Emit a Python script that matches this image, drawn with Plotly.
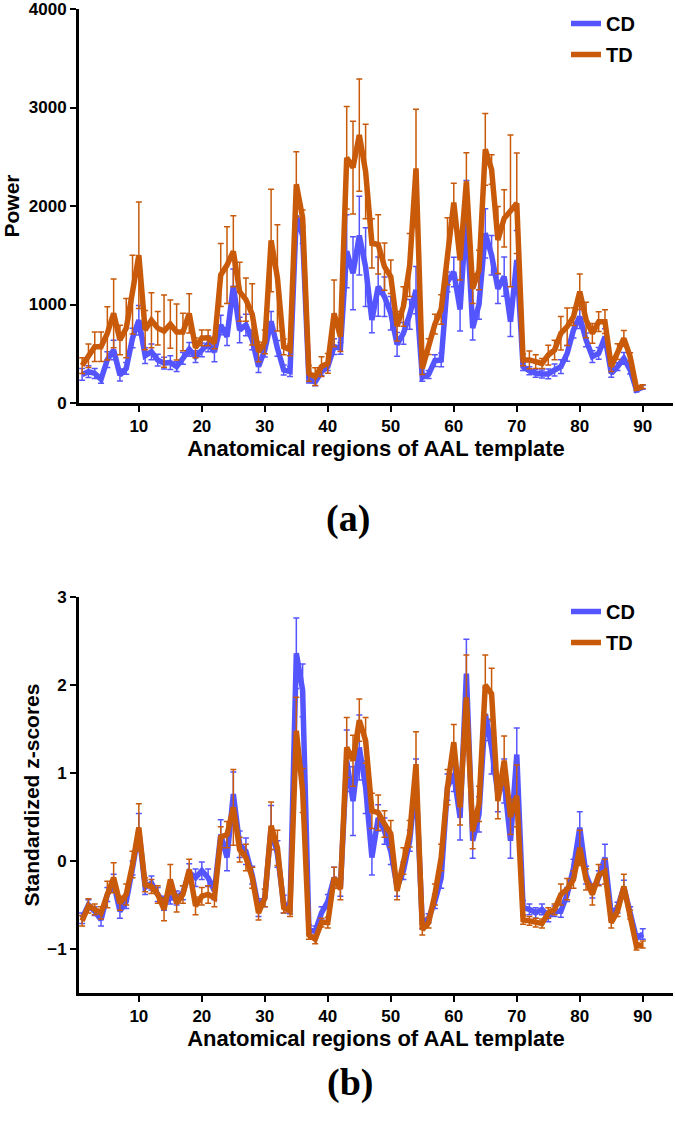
import plotly.graph_objects as go

regions = list(range(1, 91))
x_ticks = [10, 20, 30, 40, 50, 60, 70, 80, 90]
power_ticks = [0, 1000, 2000, 3000, 4000]
z_ticks = [-1, 0, 1, 2, 3]

cd_power = [290, 318, 300, 240, 440, 538, 284, 352, 660, 840,
            480, 520, 436, 405, 410, 370, 453, 545, 470, 540,
            600, 520, 792, 673, 1190, 741, 792, 640, 369, 538,
            830, 555, 335, 320, 1900, 1700, 233, 216, 318, 369,
            572, 555, 1540, 1317, 1700, 1380, 843, 1181, 1079, 910,
            595, 707, 900, 1147, 260, 290, 430, 437, 1230, 1330,
            950, 1930, 760, 1000, 1723, 1500, 1160, 1283, 825, 1452,
            369, 328, 301, 295, 295, 335, 369, 504, 741, 876,
            640, 470, 504, 673, 301, 369, 453, 335, 132, 160]
td_power = [380, 480, 572, 572, 707, 910, 640, 760, 1100, 1500,
            740, 840, 760, 730, 800, 720, 720, 910, 560, 660,
            660, 610, 1300, 1400, 1540, 1130, 1050, 900, 520, 620,
            1650, 1270, 570, 540, 2220, 1880, 301, 267, 369, 403,
            910, 673, 2490, 2390, 2720, 2350, 1621, 1610, 1384, 1282,
            780, 980, 1400, 2382, 350, 572, 800, 950, 1540, 2035,
            1450, 2250, 1160, 1350, 2575, 2370, 1655, 1875, 1950, 2027,
            437, 437, 420, 401, 487, 538, 707, 775, 876, 1130,
            843, 707, 826, 826, 369, 521, 656, 470, 149, 166]
cd_power_err = [60, 60, 50, 40, 80, 100, 60, 60, 100, 150,
                80, 80, 60, 60, 70, 50, 60, 70, 60, 70,
                80, 100, 100, 90, 170, 130, 110, 100, 60, 70,
                100, 80, 50, 50, 100, 80, 30, 40, 40, 40,
                80, 60, 370, 370, 400, 400, 130, 300, 200, 170,
                120, 110, 150, 240, 40, 40, 60, 70, 100, 150,
                220, 330, 120, 150, 250, 200, 150, 200, 150, 300,
                40, 40, 40, 40, 50, 60, 70, 80, 80, 120,
                70, 60, 60, 80, 40, 40, 60, 40, 20, 20]
td_power_err = [80, 120, 150, 150, 270, 350, 150, 300, 400, 540,
                200, 280, 170, 366, 245, 284, 190, 200, 100, 80,
                80, 60, 320, 390, 360, 300, 220, 310, 100, 120,
                520, 540, 80, 60, 330, 80, 80, 90, 100, 100,
                340, 150, 520, 470, 570, 480, 250, 300, 240, 170,
                150, 200, 320, 600, 60, 80, 100, 150, 340, 195,
                200, 290, 150, 200, 365, 150, 340, 290, 770, 510,
                60, 90, 70, 50, 100, 100, 170, 190, 90, 180,
                180, 100, 100, 120, 50, 80, 80, 40, 20, 20]

cd_z = [-0.65, -0.50, -0.57, -0.67, -0.38, -0.25, -0.57, -0.46, -0.08, 0.34,
        -0.30, -0.25, -0.38, -0.48, -0.42, -0.42, -0.36, -0.13, -0.19, -0.11,
        -0.19, -0.34, 0.30, 0.04, 0.76, 0.19, 0.11, -0.16, -0.53, -0.42,
        0.38, 0.08, -0.49, -0.53, 2.36, 1.94, -0.78, -0.80, -0.59, -0.46,
        -0.19, -0.30, 1.14, 0.68, 1.29, 0.84, 0.04, 0.49, 0.34, 0.11,
        -0.30, -0.11, 0.23, 0.91, -0.72, -0.65, -0.46, -0.19, 0.84, 0.99,
        0.49, 2.13, 0.23, 0.53, 1.67, 1.29, 0.76, 0.91, 0.23, 1.21,
        -0.53, -0.55, -0.59, -0.55, -0.63, -0.57, -0.57, -0.38, -0.08, 0.38,
        -0.16, -0.34, -0.19, 0.04, -0.61, -0.53, -0.30, -0.57, -0.88, -0.83]
td_z = [-0.68, -0.51, -0.55, -0.59, -0.38, -0.19, -0.48, -0.38, -0.04, 0.38,
        -0.27, -0.29, -0.38, -0.55, -0.21, -0.48, -0.38, -0.10, -0.51, -0.40,
        -0.38, -0.42, 0.27, 0.30, 0.61, 0.13, 0.04, -0.19, -0.59, -0.42,
        0.40, 0.15, -0.53, -0.57, 1.48, 0.80, -0.84, -0.89, -0.70, -0.70,
        -0.19, -0.32, 1.29, 1.14, 1.60, 1.37, 0.57, 0.55, 0.42, 0.31,
        -0.34, 0.00, 0.31, 1.10, -0.78, -0.70, -0.38, 0.04, 0.84, 1.35,
        0.61, 1.86, 0.34, 0.65, 2.00, 1.90, 0.68, 1.14, 0.50, 0.74,
        -0.67, -0.68, -0.70, -0.71, -0.59, -0.55, -0.38, -0.32, -0.21, 0.15,
        -0.21, -0.38, -0.16, -0.12, -0.70, -0.57, -0.29, -0.61, -0.97, -0.95]
cd_z_err = [0.06, 0.06, 0.05, 0.07, 0.08, 0.10, 0.08, 0.08, 0.08, 0.20,
            0.08, 0.08, 0.08, 0.08, 0.07, 0.08, 0.08, 0.10, 0.10, 0.10,
            0.10, 0.10, 0.17, 0.15, 0.25, 0.15, 0.15, 0.10, 0.10, 0.10,
            0.25, 0.15, 0.10, 0.07, 0.40, 0.30, 0.05, 0.06, 0.07, 0.08,
            0.12, 0.10, 0.35, 0.39, 0.37, 0.30, 0.20, 0.15, 0.15, 0.15,
            0.10, 0.10, 0.12, 0.25, 0.05, 0.05, 0.08, 0.12, 0.15, 0.20,
            0.25, 0.39, 0.20, 0.20, 0.30, 0.30, 0.20, 0.25, 0.20, 0.30,
            0.08, 0.06, 0.06, 0.06, 0.06, 0.06, 0.07, 0.08, 0.10, 0.18,
            0.10, 0.08, 0.08, 0.15, 0.06, 0.06, 0.08, 0.05, 0.05, 0.06]
td_z_err = [0.06, 0.08, 0.06, 0.07, 0.15, 0.17, 0.08, 0.12, 0.15, 0.27,
            0.08, 0.08, 0.10, 0.13, 0.17, 0.10, 0.10, 0.12, 0.10, 0.10,
            0.10, 0.10, 0.12, 0.15, 0.43, 0.14, 0.15, 0.12, 0.08, 0.10,
            0.27, 0.20, 0.06, 0.06, 0.38, 0.25, 0.05, 0.05, 0.05, 0.06,
            0.12, 0.12, 0.34, 0.29, 0.24, 0.26, 0.20, 0.20, 0.15, 0.15,
            0.10, 0.15, 0.15, 0.37, 0.06, 0.06, 0.12, 0.15, 0.20, 0.20,
            0.20, 0.48, 0.20, 0.20, 0.34, 0.29, 0.20, 0.28, 0.20, 0.35,
            0.05, 0.05, 0.05, 0.05, 0.06, 0.06, 0.12, 0.12, 0.10, 0.20,
            0.12, 0.12, 0.12, 0.14, 0.06, 0.06, 0.14, 0.05, 0.04, 0.04]

CD_COLOR = "#5555FF"
TD_COLOR = "#C85A0A"
FONT = "Arial, 'Liberation Sans', sans-serif"
SERIF = "'Times New Roman', 'Liberation Serif', serif"
W, H = 675, 1129


def trace(y, err, name, color, xa, ya, legend):
    return go.Scatter(
        x=regions, y=y, name=name, mode="lines",
        line=dict(color=color, width=5.5),
        error_y=dict(type="data", array=err, visible=True, color=color,
                     thickness=1.5, width=3),
        xaxis=xa, yaxis=ya, legend=legend, legendgroup=name + legend,
    )


fig = go.Figure()
fig.add_trace(trace(cd_power, cd_power_err, "CD", CD_COLOR, "x", "y", "legend"))
fig.add_trace(trace(td_power, td_power_err, "TD", TD_COLOR, "x", "y", "legend"))
fig.add_trace(trace(cd_z, cd_z_err, "CD", CD_COLOR, "x2", "y2", "legend2"))
fig.add_trace(trace(td_z, td_z_err, "TD", TD_COLOR, "x2", "y2", "legend2"))

xdom = [79 / W, 673 / W]
top_dom = [1 - 403 / H, 1 - 9 / H]
bot_dom = [1 - 993 / H, 1 - 597 / H]

axis_common = dict(showgrid=False, zeroline=False, showline=True, automargin=False,
                   linecolor="black", linewidth=3, ticks="outside",
                   ticklen=6, tickwidth=2, tickcolor="black",
                   ticklabeloverflow="allow",
                   tickfont=dict(family=FONT, size=17, color="black", weight="bold"))
xtitle = dict(text="<b>Anatomical regions of AAL template</b>",
              font=dict(family=FONT, size=22, color="black"), standoff=6)
ytitle_font = dict(family=FONT, size=21, color="black")
legend_common = dict(xanchor="left", yanchor="top", bgcolor="rgba(0,0,0,0)",
                     tracegroupgap=2,
                     font=dict(family=FONT, size=20, color="black", weight="bold"))

fig.update_layout(
    width=W, height=H, paper_bgcolor="white", plot_bgcolor="white",
    margin=dict(l=0, r=0, t=0, b=0, autoexpand=False),
    xaxis=dict(domain=xdom, range=[0.5, 94.8], tickvals=x_ticks, anchor="y",
               title=xtitle, **axis_common),
    yaxis=dict(domain=top_dom, range=[0, 4000], tickvals=power_ticks, anchor="x",
               title=dict(text="<b>Power</b>", font=ytitle_font, standoff=12),
               **axis_common),
    xaxis2=dict(domain=xdom, range=[0.5, 94.8], tickvals=x_ticks, anchor="y2",
                title=xtitle, **axis_common),
    yaxis2=dict(domain=bot_dom, range=[-1.5, 3], tickvals=z_ticks, anchor="x2",
                title=dict(text="<b>Standardized z-scores</b>", font=ytitle_font,
                           standoff=2),
                **axis_common),
    legend=dict(x=566 / W, y=1 - 4 / H, **legend_common),
    legend2=dict(x=566 / W, y=1 - 592 / H, **legend_common),
    annotations=[
        dict(text="<b>(a)</b>", x=348 / W, y=1 - 518 / H, xref="paper", yref="paper",
             showarrow=False, font=dict(family=SERIF, size=38, color="black")),
        dict(text="<b>(b)</b>", x=350 / W, y=1 - 1106 / H, xref="paper", yref="paper",
             showarrow=False, font=dict(family=SERIF, size=38, color="black")),
    ],
)

fig.write_html("out.html", config={"displayModeBar": False},
               post_script="document.body.style.margin='0';")
